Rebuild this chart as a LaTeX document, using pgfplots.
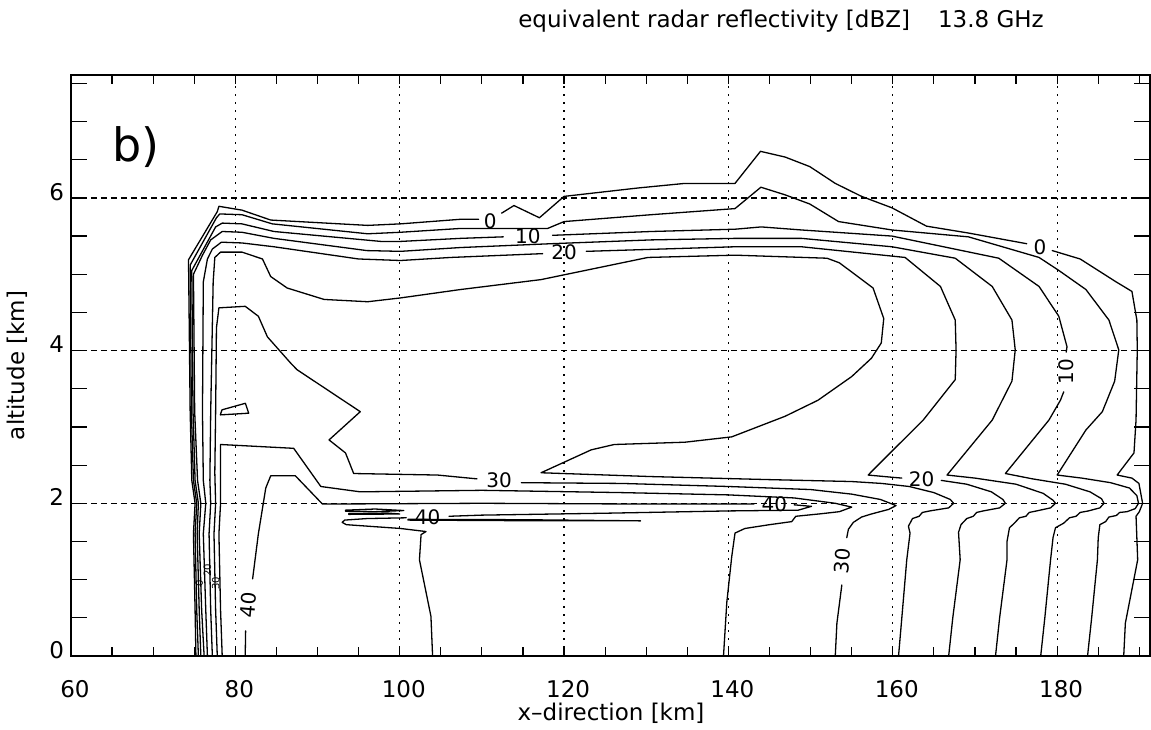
\documentclass[border=0pt]{standalone}
\usepackage{fontspec}
\setmainfont{DejaVu Sans}
\usepackage{pgfplots}
\pgfplotsset{compat=1.18}
\usetikzlibrary{calc}
\begin{document}
\begin{tikzpicture}[
  cl/.style={black, line width=0.65pt, line join=round, line cap=round, mark=none},
  lab/.style={font=\fontsize{10}{12}\selectfont, inner sep=0pt, text=black}]
\begin{axis}[
  scale only axis, width=539.5pt, height=290.5pt,
  xmin=60, xmax=191.3, ymin=0, ymax=7.61,
  xtick={60,80,...,180}, ytick={0,2,4,6},
  minor xtick={65,70,...,190}, minor ytick={0.5,1,...,7.5},
  tick align=inside, xtick pos=both, ytick pos=both,
  major tick length=4.7pt, minor tick length=4.7pt,
  xmajorgrids, ymajorgrids,
  x grid style={black, line width=0.6pt, dash pattern=on 0.9pt off 3.1pt},
  y grid style={black, line width=0.6pt, dash pattern=on 3pt off 2pt},
  axis line style={line width=0.9pt},
  tick style={black, line width=0.6pt},
  tick label style={font=\fontsize{11.5}{13}\selectfont},
  /pgf/number format/assume math mode=true,
  xticklabel style={yshift=-8.5pt, xshift=2pt},
  yticklabel style={yshift=3pt},
]
\coordinate (bl) at (rel axis cs:0,0);
\coordinate (tr) at (rel axis cs:1,1);
% ---- 0 dBZ
\addplot[cl] coordinates {(75.2,0) (75.1,0.6) (74.9,1.6) (75.1,2.0) (74.7,2.3) (74.5,3.2) (74.3,5.19) (77.8,5.82) (78.0,5.89) (80.8,5.84) (84.3,5.71) (96.1,5.64) (100.1,5.66) (107.4,5.72) (109.6,5.72)};
\addplot[cl] coordinates {(112.4,5.80) (113.9,5.90) (117.0,5.74) (120.0,6.02) (129.0,6.13) (134.7,6.19) (140.8,6.19) (143.9,6.61) (146.9,6.535) (149.9,6.41) (153.0,6.19) (156.2,6.02) (159.9,5.87) (164.1,5.63) (169.2,5.54) (176.3,5.40)};
\addplot[cl] coordinates {(179.4,5.31) (182.8,5.20) (187.1,4.905) (189.1,4.775) (189.7,4.40) (189.75,4.01) (189.6,3.09) (189.35,2.66) (187.3,2.37) (189.1,2.33) (189.95,2.26) (190.4,2.00) (190.0,1.89) (189.6,1.83) (189.8,1.26) (188.3,0.43) (188.1,0)};
% ---- 5 dBZ
\addplot[cl] coordinates {(75.5,0) (75.3,0.6) (75.1,1.6) (75.3,2.0) (74.9,2.3) (74.65,3.2) (74.5,5.12) (77.7,5.74) (78.1,5.79) (80.8,5.78) (84.5,5.66) (96.1,5.53) (100.1,5.55) (107.4,5.60) (113.5,5.60) (118.0,5.60) (120.0,5.69) (130.6,5.78) (140.8,5.86) (143.95,6.14) (146.9,6.04) (149.9,5.92) (153.4,5.69) (159.9,5.58) (169.2,5.49) (177.8,5.22) (180.2,5.05) (183.5,4.80) (186.3,4.40) (187.5,4.01) (187.0,3.6) (185.5,3.2) (183.5,2.96) (180.0,2.37) (183.0,2.33) (186.5,2.27) (188.8,2.20) (189.7,2.10) (189.9,2.00) (189.5,1.93) (188.5,1.89) (187.6,1.88) (187.2,1.84) (186.3,1.82) (185.9,1.76) (185.2,1.72) (185.0,1.55) (184.9,1.26) (184.2,0.5) (183.7,0)};
% ---- 10 dBZ
\addplot[cl] coordinates {(75.8,0) (75.6,0.6) (75.35,1.6) (75.5,2.0) (75.1,2.3) (74.85,3.2) (74.7,5.05) (77.6,5.62) (78.4,5.67) (80.8,5.66) (84.7,5.56) (97.7,5.43) (100.1,5.43) (107.4,5.47) (112.6,5.49)};
\addplot[cl] coordinates {(118.6,5.51) (130.6,5.56) (140.8,5.59) (144.0,5.62) (148.9,5.58) (159.9,5.50) (172.9,5.21) (177.8,4.84) (180.2,4.45) (181.2,4.05) (181.1,3.98)};
\addplot[cl] coordinates {(180.8,3.46) (180.4,3.35) (179.0,3.09) (173.7,2.39) (177.0,2.32) (181.0,2.25) (184.0,2.15) (185.4,2.06) (185.7,2.00) (185.2,1.94) (183.8,1.90) (182.8,1.88) (182.3,1.83) (181.5,1.81) (180.8,1.74) (179.8,1.68) (179.5,1.55) (179.2,1.26) (178.5,0.5) (178.0,0)};
% ---- 15 dBZ
\addplot[cl] coordinates {(76.2,0) (75.9,0.6) (75.6,1.6) (75.8,2.0) (75.4,2.3) (75.05,3.2) (74.9,5.0) (76.0,5.25) (77.0,5.45) (78.4,5.56) (80.8,5.55) (84.7,5.47) (96.0,5.31) (100.1,5.30) (107.4,5.35) (118.4,5.40) (130.6,5.45) (140.8,5.47) (148.9,5.47) (159.9,5.36) (167.6,5.21) (172.1,4.84) (174.5,4.40) (174.9,4.01) (174.5,3.60) (172.1,3.09) (166.6,2.37) (170.0,2.33) (175.0,2.25) (178.3,2.13) (179.5,2.04) (179.8,2.00) (179.2,1.94) (177.5,1.90) (176.6,1.88) (176.2,1.83) (175.4,1.81) (174.8,1.74) (174.2,1.68) (173.9,1.50) (173.9,1.26) (173.0,0.5) (172.5,0)};
% ---- 20 dBZ
\addplot[cl] coordinates {(76.6,0) (76.4,0.6) (76.1,1.6) (76.4,2.0) (76.1,2.3) (76.0,3.2) (76.1,4.9) (76.6,5.2) (77.2,5.33) (78.3,5.42) (80.8,5.41) (84.7,5.36) (95.0,5.20) (100.1,5.18) (106.2,5.22) (117.4,5.27)};
\addplot[cl] coordinates {(122.7,5.30) (140.8,5.36) (148.9,5.36) (161.5,5.22) (165.8,4.84) (167.6,4.40) (167.7,4.01) (167.6,3.62) (163.7,3.09) (158.66,2.55) (157.0,2.37) (160.0,2.34) (161.1,2.33)};
\addplot[cl] coordinates {(165.9,2.30) (169.0,2.25) (172.0,2.15) (173.4,2.05) (173.7,2.00) (173.0,1.94) (171.0,1.90) (170.2,1.88) (169.8,1.83) (169.0,1.80) (168.3,1.72) (168.0,1.62) (168.2,1.26) (167.3,0.5) (166.8,0)};
% ---- 25 dBZ
\addplot[cl] coordinates {(77.2,0) (77.0,0.6) (76.8,1.6) (77.0,2.0) (76.9,2.3) (77.0,3.2) (77.3,4.9) (77.5,5.22) (78.2,5.29) (80.8,5.29) (83.3,5.20) (84.3,4.97) (86.3,4.82) (90.8,4.67) (96.1,4.64) (100.1,4.69) (107.4,4.80) (117.2,4.93) (130.2,5.22) (140.8,5.25) (152.0,5.21) (153.5,5.15) (157.6,4.82) (158.9,4.42) (158.6,4.10) (157.4,3.90) (155.0,3.66) (150.9,3.35) (146.9,3.14) (140.4,2.87) (134.7,2.80) (126.1,2.77) (123.3,2.70) (117.2,2.40) (130.6,2.35) (145.0,2.31) (155.0,2.285) (158.66,2.26) (162.0,2.22) (165.0,2.14) (167.0,2.05) (167.4,2.00) (166.8,1.94) (164.5,1.90) (163.6,1.88) (163.2,1.83) (162.4,1.80) (161.9,1.70) (162.1,1.61) (161.7,1.26) (161.1,0.5) (160.7,0)};
% ---- 30 dBZ
\addplot[cl] coordinates {(77.8,0) (77.6,0.6) (77.4,1.6) (77.6,2.0) (77.5,2.4) (77.6,3.2) (77.7,4.3) (78.0,4.56) (81.2,4.58) (82.8,4.45) (83.9,4.18) (86.7,3.84) (87.5,3.75) (95.2,3.20) (91.4,2.83) (93.4,2.66) (94.4,2.39) (104.6,2.37) (109.4,2.32)};
\addplot[cl] coordinates {(114.8,2.27) (127.0,2.26) (140.0,2.22) (150.0,2.18) (155.0,2.12) (158.5,2.05) (160.4,1.97) (159.5,1.92) (157.4,1.86) (156.2,1.82) (155.2,1.75) (154.6,1.66) (154.4,1.55)};
\addplot[cl] coordinates {(153.8,0.93) (153.2,0.43) (153.0,0)};
% ---- 35 dBZ
\addplot[cl] coordinates {(78.4,0) (78.2,0.6) (78.0,1.6) (78.2,2.0) (78.2,2.5) (78.2,2.77) (87.1,2.72) (90.4,2.22) (95.2,2.15) (110.0,2.17) (127.0,2.14) (140.0,2.11) (148.0,2.07) (153.0,2.00) (155.0,1.95) (153.5,1.89) (151.0,1.86) (148.2,1.83) (147.7,1.76) (145.0,1.72) (142.0,1.67) (140.8,1.61) (140.4,1.30) (139.8,0.7) (139.4,0)};
% ---- 40 dBZ
\addplot[cl] coordinates {(81.2,0) (81.25,0.33)};
\addplot[cl] coordinates {(82.1,1.01) (82.8,1.6) (83.7,2.2) (84.3,2.36) (87.3,2.36) (90.6,1.99) (110,2.00) (130,1.99) (143.1,1.99)};
\addplot[cl] coordinates {(148.0,1.98) (150.1,1.96) (148.5,1.91) (140,1.90) (125,1.87) (110,1.845) (106.0,1.83)};
\addplot[cl] coordinates {(100.8,1.81) (96.0,1.80) (93.3,1.78) (93.0,1.75) (93.5,1.72) (100.1,1.67) (103.2,1.63) (102.6,1.59) (102.4,1.26) (103.8,0.52) (104.0,0)};
% small closed contours
\addplot[cl] coordinates {(101,1.79) (115,1.785) (129.3,1.77) (115,1.772) (101,1.78)};
\addplot[cl] coordinates {(93.4,1.91) (97,1.925) (100.5,1.905) (97,1.89) (93.4,1.895) (93.4,1.91)};
\addplot[cl] coordinates {(93.8,1.865) (98.5,1.872) (100,1.86) (93.8,1.855) (93.8,1.865)};
\addplot[cl] coordinates {(78.37,3.224) (81.22,3.31) (81.62,3.18) (78.17,3.158) (78.37,3.224)};
% ---- contour labels
\node[lab] at (axis cs:111.0,5.70) {0};
\node[lab] at (axis cs:177.9,5.36) {0};
\node[lab] at (axis cs:115.6,5.50) {10};
\node[lab] at (axis cs:120.0,5.29) {20};
\node[lab, rotate=90] at (axis cs:181.1,3.72) {10};
\node[lab] at (axis cs:163.5,2.31) {20};
\node[lab] at (axis cs:112.1,2.30) {30};
\node[lab] at (axis cs:103.4,1.82) {40};
\node[lab] at (axis cs:145.6,1.99) {40};
\node[lab, rotate=85] at (axis cs:153.9,1.24) {30};
\node[lab, rotate=85] at (axis cs:81.55,0.67) {40};
\node[font=\fontsize{5}{6}\selectfont, inner sep=0pt, rotate=90] at (axis cs:75.6,0.95) {0};
\node[font=\fontsize{5}{6}\selectfont, inner sep=0pt, rotate=90] at (axis cs:76.6,1.12) {20};
\node[font=\fontsize{5}{6}\selectfont, inner sep=0pt, rotate=90] at (axis cs:77.6,0.95) {30};
\node[font=\fontsize{23}{28}\selectfont, inner sep=0pt] at (axis cs:67.9,6.67) {b)};
\end{axis}
\begin{axis}[
  scale only axis, width=539.5pt, height=290.5pt,
  xmin=60, xmax=191.3, ymin=0, ymax=7.61,
  xtick=\empty, ytick={0,2,4,6}, yticklabels={},
  minor ytick={0.5,1,...,7.5},
  tick align=inside, ytick pos=both,
  major tick length=8pt, minor tick length=8pt,
  axis line style={line width=0.9pt},
  tick style={black, line width=0.6pt},
]
\end{axis}
\node[font=\fontsize{11.5}{13}\selectfont, inner sep=0pt] at ($(bl|-tr)+(355pt,27pt)$) {equivalent radar reflectivity [dBZ]\hspace{14pt}13.8 GHz};
\node[font=\fontsize{11.5}{13}\selectfont, inner sep=0pt] at ($(bl)+(270pt,-28.5pt)$) {x--direction [km]};
\node[font=\fontsize{11.5}{13}\selectfont, inner sep=0pt, rotate=90] at ($(bl)+(-27pt,145.25pt)$) {altitude [km]};
\pgfresetboundingbox
\path[use as bounding box] ($(bl)+(-35.5pt,-37pt)$) rectangle ($(tr)+(0.5pt,37.5pt)$);
\end{tikzpicture}
\end{document}
